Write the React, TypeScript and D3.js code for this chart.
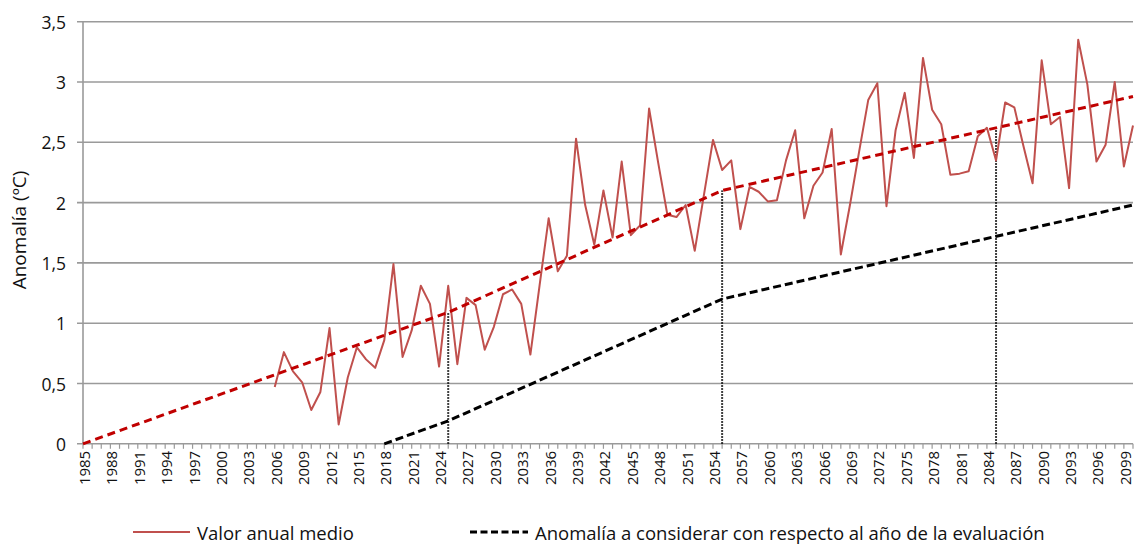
import * as d3 from 'd3';

const YEAR_START = 1985;
const YEAR_END = 2100;
const Y_TICKS = [0, 0.5, 1, 1.5, 2, 2.5, 3, 3.5];
const Y_TICK_LABELS = ['0', '0,5', '1', '1,5', '2', '2,5', '3', '3,5'];

// Valor anual medio, 2006..2100
const ANNUAL_START = 2006;
const annualValues = [
  0.47, 0.76, 0.6, 0.51, 0.28, 0.43, 0.96, 0.16, 0.55, 0.8,
  0.7, 0.63, 0.86, 1.49, 0.72, 0.94, 1.31, 1.16, 0.64, 1.31,
  0.66, 1.21, 1.15, 0.78, 0.97, 1.24, 1.28, 1.16, 0.74, 1.31,
  1.87, 1.43, 1.56, 2.53, 1.98, 1.65, 2.1, 1.71, 2.34, 1.73,
  1.81, 2.78, 2.33, 1.9, 1.88, 1.98, 1.6, 2.06, 2.52, 2.27,
  2.35, 1.78, 2.13, 2.09, 2.01, 2.02, 2.35, 2.6, 1.87, 2.14,
  2.25, 2.61, 1.57, 1.98, 2.42, 2.85, 2.99, 1.97, 2.6, 2.91,
  2.37, 3.2, 2.77, 2.65, 2.23, 2.24, 2.26, 2.55, 2.62, 2.35,
  2.83, 2.79, 2.47, 2.16, 3.18, 2.65, 2.71, 2.12, 3.35, 2.98,
  2.34, 2.48, 3.0, 2.3, 2.64,
];

// tendencia (roja discontinua)
const trendYears = [1985, 2025, 2055, 2100];
const trendValues = [0, 1.09, 2.1, 2.88];

// anomalía respecto al año de evaluación (negra discontinua)
const anomalyYears = [2018, 2025, 2055, 2100];
const anomalyValues = [0, 0.19, 1.2, 1.98];

// líneas verticales punteadas
const markerYears = [2025, 2055, 2085];
const markerTops = [1.09, 2.1, 2.62];

const W = 1135;
const H = 546;
const LEFT = 83;
const RIGHT = 1133;
const TOP = 21.7;
const BOTTOM = 443.8;
const LEGEND_Y = 532;

const FONT = '"Open Sans", "Liberation Sans", sans-serif';
const GRID = '#9a9a9a';
const TEXT = '#111';

export default function App() {
  const x = d3.scaleLinear().domain([YEAR_START, YEAR_END]).range([LEFT, RIGHT]);
  const y = d3.scaleLinear().domain([0, 3.5]).range([BOTTOM, TOP]);

  const years = d3.range(YEAR_START, YEAR_END + 1);
  const labelYears = years.filter((yr) => (yr - YEAR_START) % 3 === 0);

  const line = d3
    .line<[number, number]>()
    .x((d) => x(d[0]))
    .y((d) => y(d[1]));

  const annual: [number, number][] = annualValues.map((v, i) => [ANNUAL_START + i, v]);
  const trend: [number, number][] = trendYears.map((yr, i) => [yr, trendValues[i]]);
  const anomaly: [number, number][] = anomalyYears.map((yr, i) => [yr, anomalyValues[i]]);

  return (
    <div style={{ position: 'fixed', left: 0, top: 0 }}>
      <svg width={W} height={H} style={{ display: 'block', background: '#fff' }}>
        {/* gridlines */}
        {Y_TICKS.map((t) => (
          <line
            key={`g${t}`}
            x1={LEFT - 6}
            x2={RIGHT}
            y1={y(t)}
            y2={y(t)}
            stroke={GRID}
            strokeWidth={1.6}
          />
        ))}
        {/* y axis */}
        <line x1={LEFT} x2={LEFT} y1={TOP} y2={BOTTOM} stroke={GRID} strokeWidth={1.6} />
        {Y_TICKS.map((t, i) => (
          <text
            key={`yl${t}`}
            x={66}
            y={y(t)}
            textAnchor="end"
            dominantBaseline="central"
            fontFamily={FONT}
            fontSize={17.5}
            fill={TEXT}
          >
            {Y_TICK_LABELS[i]}
          </text>
        ))}
        <text
          transform={`translate(26,230) rotate(-90)`}
          textAnchor="middle"
          fontFamily={FONT}
          fontSize={19}
          fill={TEXT}
        >
          Anomalía (ºC)
        </text>

        {/* x axis ticks */}
        {years.map((yr) => (
          <line
            key={`xt${yr}`}
            x1={x(yr)}
            x2={x(yr)}
            y1={BOTTOM}
            y2={BOTTOM + 5}
            stroke={GRID}
            strokeWidth={1.2}
          />
        ))}
        {labelYears.map((yr) => (
          <text
            key={`xl${yr}`}
            transform={`translate(${x(yr) + 1},${BOTTOM + 7}) rotate(-90)`}
            textAnchor="end"
            dominantBaseline="central"
            fontFamily={FONT}
            fontSize={15}
            fill={TEXT}
          >
            {yr}
          </text>
        ))}

        {/* dotted verticals */}
        {markerYears.map((yr, i) => (
          <line
            key={`m${yr}`}
            x1={x(yr)}
            x2={x(yr)}
            y1={y(0)}
            y2={y(markerTops[i])}
            stroke="#000"
            strokeWidth={2}
            strokeDasharray="1.5 1.5"
          />
        ))}

        <path d={line(anomaly) ?? ''} fill="none" stroke="#000" strokeWidth={3} strokeDasharray="8 4" />
        <path d={line(annual) ?? ''} fill="none" stroke="#c0504d" strokeWidth={2} strokeLinejoin="round" />
        <path d={line(trend) ?? ''} fill="none" stroke="#c00000" strokeWidth={3} strokeDasharray="8 5" />

        {/* legend */}
        <line x1={133} x2={190} y1={LEGEND_Y} y2={LEGEND_Y} stroke="#c0504d" strokeWidth={2} />
        <text x={197} y={LEGEND_Y} dominantBaseline="central" fontFamily={FONT} fontSize={18.5} fill={TEXT}>
          Valor anual medio
        </text>
        <line x1={470} x2={528} y1={LEGEND_Y} y2={LEGEND_Y} stroke="#000" strokeWidth={3} strokeDasharray="7 3.5" />
        <text x={535} y={LEGEND_Y} dominantBaseline="central" fontFamily={FONT} fontSize={18.5} fill={TEXT}>
          Anomalía a considerar con respecto al año de la evaluación
        </text>
      </svg>
    </div>
  );
}
